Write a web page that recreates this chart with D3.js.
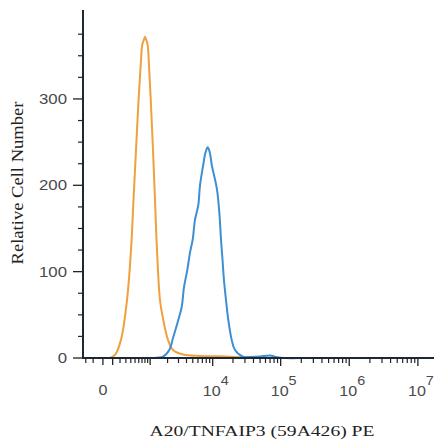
<!DOCTYPE html>
<html>
<head>
<meta charset="utf-8">
<script src="https://cdn.jsdelivr.net/npm/d3@7"></script>
<style>
  body { margin: 0; background: #fff; }
  svg { display: block; }
</style>
</head>
<body>
<div id="chart"></div>
<script>
// isotype control (orange) - PE intensity vs count
const controlX = [50, 69, 129, 215, 321, 404, 462, 525, 588, 658, 709, 756, 801, 848, 897, 952, 1024, 1126, 1223, 1325, 1493, 1698, 2032, 2451, 3530, 6440, 12840, 25360, 35580, 60000];
const controlY = [0, 0, 3.5, 21, 67, 125, 183, 241, 293, 339, 363, 368, 372, 368, 363, 339, 300, 241, 183, 125, 67, 44, 21, 9.3, 4, 2.3, 2, 1, 0, 0];

// A20/TNFAIP3 stained (blue)
const stainedX = [500, 994, 1678, 2133, 2478, 2977, 3367, 3659, 4118, 4531, 4985, 5405, 6068, 6440, 7224, 7797, 8416, 9045, 9658, 11590, 12620, 13290, 13990, 14720, 15770, 17050, 19130, 21400, 28080, 35580, 49800, 69800, 85400, 115400, 200000];
const stainedY = [0, 0, 1.5, 9.3, 24.3, 44, 59, 82, 102, 122, 137, 160, 177, 200, 224, 238, 244, 238, 224, 195, 166, 137, 114, 90, 67, 44, 21, 9.3, 1.5, 1.2, 1.7, 2.9, 1.2, 0, 0];

const yTicks = [0, 100, 200, 300];
const yMinor = [25, 50, 75, 125, 150, 175, 225, 250, 275, 325, 350, 375];
const xMajor = [1e4, 1e5, 1e6, 1e7];
const xExp = ["4", "5", "6", "7"];

const width = 434, height = 440;
const axisX = 83, axisY = 358;

const svg = d3.select("#chart").append("svg")
  .attr("width", width)
  .attr("height", height);

// biexponential-ish display approximated by symlog
const x = d3.scaleSymlog()
  .constant(258)
  .domain([-245, 1.66e7])
  .range([axisX, 433]);

const y = d3.scaleLinear()
  .domain([0, 403])
  .range([axisY, 10]);

const line = d3.line()
  .x(d => x(d[0]))
  .y(d => y(d[1]))
  .curve(d3.curveCatmullRom.alpha(0.5));

svg.append("path")
  .datum(d3.zip(controlX, controlY))
  .attr("d", line)
  .attr("fill", "none")
  .attr("stroke", "#f0a03c")
  .attr("stroke-width", 2);

svg.append("path")
  .datum(d3.zip(stainedX, stainedY))
  .attr("d", line)
  .attr("fill", "none")
  .attr("stroke", "#3b8fd4")
  .attr("stroke-width", 2);

const labelFont = "Liberation Sans, Arial, sans-serif";

// y axis
const gy = svg.append("g");
gy.append("line")
  .attr("x1", axisX).attr("x2", axisX)
  .attr("y1", 10).attr("y2", axisY + 1)
  .attr("stroke", "#1c2838").attr("stroke-width", 2);

gy.selectAll("line.major")
  .data(yTicks)
  .join("line")
  .attr("class", "major")
  .attr("x1", axisX - 10).attr("x2", axisX)
  .attr("y1", d => y(d)).attr("y2", d => y(d))
  .attr("stroke", "#222").attr("stroke-width", 1.3);

gy.selectAll("line.minor")
  .data(yMinor)
  .join("line")
  .attr("class", "minor")
  .attr("x1", axisX - 5).attr("x2", axisX)
  .attr("y1", d => y(d)).attr("y2", d => y(d))
  .attr("stroke", "#222").attr("stroke-width", 1.2);

gy.selectAll("text")
  .data(yTicks)
  .join("text")
  .attr("transform", d => `translate(67,${y(d) + 5}) scale(1.2,1)`)
  .attr("text-anchor", "end")
  .attr("font-family", labelFont)
  .attr("font-size", 14)
  .attr("fill", "#4a4a4a")
  .text(d => d);

// x axis
const gx = svg.append("g");
gx.append("line")
  .attr("x1", axisX - 1).attr("x2", width)
  .attr("y1", axisY).attr("y2", axisY)
  .attr("stroke", "#1c2838").attr("stroke-width", 2);

const minorVals = [-200, -100];
for (let k = 2; k < 10; k++) minorVals.push(k * 100);
for (let e = 3; e < 7; e++) {
  for (let k = 2; k < 10; k++) minorVals.push(k * Math.pow(10, e));
}
const midVals = [0, 100, 1000];

gx.selectAll("line.minor")
  .data(minorVals)
  .join("line")
  .attr("class", "minor")
  .attr("x1", d => x(d)).attr("x2", d => x(d))
  .attr("y1", axisY).attr("y2", axisY + 5)
  .attr("stroke", "#222").attr("stroke-width", 1.2);

gx.selectAll("line.mid")
  .data(midVals)
  .join("line")
  .attr("class", "mid")
  .attr("x1", d => x(d)).attr("x2", d => x(d))
  .attr("y1", axisY).attr("y2", axisY + 7)
  .attr("stroke", "#222").attr("stroke-width", 1.3);

gx.selectAll("line.major")
  .data(xMajor)
  .join("line")
  .attr("class", "major")
  .attr("x1", d => x(d)).attr("x2", d => x(d))
  .attr("y1", axisY).attr("y2", axisY + 8)
  .attr("stroke", "#222").attr("stroke-width", 1.3);

gx.append("text")
  .attr("transform", `translate(${x(0)},395) scale(1.15,1)`)
  .attr("text-anchor", "middle")
  .attr("font-family", labelFont)
  .attr("font-size", 14)
  .attr("fill", "#4a4a4a")
  .text("0");

const powLabels = gx.selectAll("text.pow")
  .data(d3.zip(xMajor, xExp))
  .join("text")
  .attr("class", "pow")
  .attr("transform", d => `translate(${x(d[0]) + 3},396) scale(1.15,1)`)
  .attr("text-anchor", "middle")
  .attr("font-family", labelFont)
  .attr("font-size", 14)
  .attr("fill", "#4a4a4a");
powLabels.append("tspan").text("10");
powLabels.append("tspan")
  .attr("dy", -11)
  .attr("font-size", 12.5)
  .text(d => d[1]);

// titles
svg.append("text")
  .attr("x", 262)
  .attr("y", 436)
  .attr("text-anchor", "middle")
  .attr("font-family", "Liberation Serif, Times New Roman, serif")
  .attr("font-size", 15.5)
  .attr("fill", "#222")
  .attr("textLength", 225)
  .attr("lengthAdjust", "spacingAndGlyphs")
  .text("A20/TNFAIP3 (59A426) PE");

svg.append("text")
  .attr("transform", "translate(23,183) rotate(-90)")
  .attr("text-anchor", "middle")
  .attr("font-family", "Liberation Serif, Times New Roman, serif")
  .attr("font-size", 16)
  .attr("fill", "#222")
  .attr("textLength", 163)
  .attr("lengthAdjust", "spacingAndGlyphs")
  .text("Relative Cell Number");
</script>
</body>
</html>
